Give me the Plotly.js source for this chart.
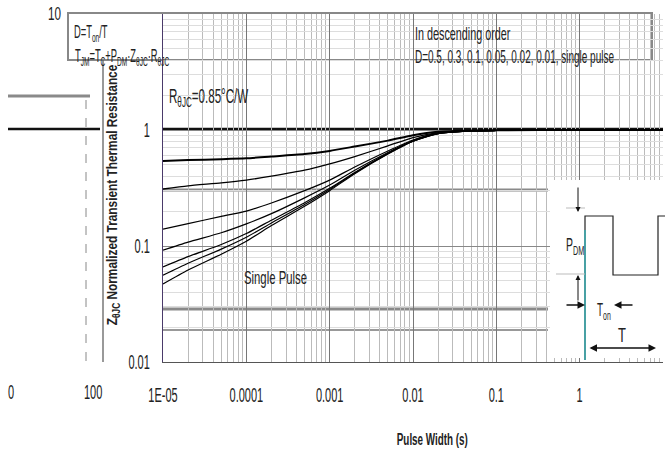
<!DOCTYPE html>
<html>
<head>
<meta charset="utf-8">
<script src="https://cdn.plot.ly/plotly-3.0.1.min.js"></script>
<style>html,body{margin:0;padding:0;background:#fff;}#chart{width:665px;height:454px;}</style>
</head>
<body>
<div id="chart"></div>
<script>
// Pulse width (s)
const pulseWidth = [1e-5, 2e-5, 5e-5, 1e-4, 2e-4, 5e-4, 1e-3, 2e-3, 5e-3, 1e-2, 2e-2, 5e-2, 0.1, 1, 10];
// Normalized transient thermal impedance, by duty cycle
const seriesNames = ["D=0.5", "D=0.3", "D=0.1", "D=0.05", "D=0.02", "D=0.01", "Single Pulse"];
const zD050 = [0.54, 0.55, 0.56, 0.57, 0.59, 0.62, 0.66, 0.72, 0.81, 0.90, 0.965, 0.99, 0.995, 1, 1];
const zD030 = [0.31, 0.33, 0.35, 0.37, 0.40, 0.45, 0.51, 0.59, 0.73, 0.86, 0.95, 0.985, 0.993, 1, 1];
const zD010 = [0.14, 0.156, 0.18, 0.20, 0.235, 0.30, 0.37, 0.48, 0.66, 0.82, 0.94, 0.98, 0.99, 1, 1];
const zD005 = [0.092, 0.108, 0.13, 0.155, 0.19, 0.26, 0.335, 0.45, 0.64, 0.81, 0.935, 0.98, 0.99, 1, 1];
const zD002 = [0.066, 0.081, 0.103, 0.128, 0.167, 0.236, 0.314, 0.43, 0.63, 0.80, 0.93, 0.98, 0.99, 1, 1];
const zD001 = [0.056, 0.071, 0.094, 0.119, 0.158, 0.228, 0.307, 0.426, 0.624, 0.80, 0.93, 0.98, 0.99, 1, 1];
const zSingle = [0.047, 0.062, 0.085, 0.11, 0.15, 0.22, 0.30, 0.42, 0.62, 0.80, 0.93, 0.98, 0.99, 1, 1];
const xTickVals = [1e-5, 1e-4, 1e-3, 1e-2, 0.1, 1, 10];
const xTickText = ["1E-05", "0.0001", "0.001", "0.01", "0.1", "1", "10"];
const yTickVals = [0.01, 0.1, 1, 10];
const yTickText = ["0.01", "0.1", "1", ""];

const allSeries = [zD050, zD030, zD010, zD005, zD002, zD001, zSingle];
const widths = [2, 1.3, 1.2, 1.2, 1.2, 1.2, 1.2];
const traces = allSeries.map((ys, i) => ({
  x: pulseWidth, y: ys, name: seriesNames[i], type: 'scatter', mode: 'lines',
  line: {color: '#000', width: widths[i], shape: 'spline', smoothing: 0.6}, showlegend: false
}));

const W = 665, H = 454, L = 163, R = 2, T = 14, B = 92;
const pw = W - L - R, ph = H - T - B;
const px = v => (v - L) / pw;
const py = v => (H - B - v) / ph;
const fnt = {family: 'Liberation Sans, Arial', size: 14, color: '#222'};
const fs = s => Object.assign({}, fnt, {size: s});

// horizontal squeeze per annotation (reference text is strongly condensed)
const annScale = [];
function ann(text, x, y, size, sq, opts) {
  annScale.push(sq);
  return Object.assign({text: text, xref: 'paper', yref: 'paper', x: px(x), y: py(y),
    showarrow: false, xanchor: 'left', yanchor: 'middle', align: 'left', font: fs(size)}, opts || {});
}
function arrow(x, y, ax, ay, w, extra) {
  annScale.push(1);
  return Object.assign({xref: 'paper', yref: 'paper', x: px(x), y: py(y), ax: px(ax), ay: py(ay),
    axref: 'paper', ayref: 'paper', showarrow: true, arrowhead: 2, arrowsize: 1, arrowwidth: w,
    arrowcolor: '#111', text: ''}, extra || {});
}

const annotations = [
  ann('10', 46, 14, 18, 0.65),
  ann('0', 6, 392, 20, 0.55),
  ann('100', 82, 392, 20, 0.55),
  ann('D=T<sub>on</sub>/T', 72, 33, 18, 0.52),
  ann('T<sub>JM</sub>=T<sub>C</sub>+P<sub>DM</sub>·Z<sub>θJC</sub>·R<sub>θJC</sub>', 73, 57, 18, 0.52),
  ann('R<sub>θJC</sub>=0.85°C/W', 167, 97, 20, 0.58),
  ann('In descending order', 413, 34, 18, 0.6),
  ann('D=0.5, 0.3, 0.1, 0.05, 0.02, 0.01, single pulse', 413, 57, 18, 0.555),
  ann('Single Pulse', 242, 278, 18, 0.63),
  ann('P<sub>DM</sub>', 564, 246, 18, 0.58),
  ann('T<sub>on</sub>', 595, 311, 18, 0.55),
  ann('T', 616, 335, 20, 0.65),
  ann('<b>Pulse Width (s)</b>', 432, 440, 17, 0.58, {xanchor: 'center', align: 'center'}),
  ann('<b>Z<sub>θJC</sub> Normalized Transient Thermal Resistance</b>', 112, 195, 15, 0.79,
      {textangle: -90, xanchor: 'center', yanchor: 'middle', align: 'center'}),
  arrow(578, 212, 578, 186, 1),
  arrow(578, 275, 578, 302, 1),
  arrow(585, 305, 565, 305, 1.5),
  arrow(614, 305, 634, 305, 1.5),
  arrow(656, 348, 588, 348, 1.5, {startarrowhead: 2, arrowside: 'end+start'})
];

const shapes = [
  {type: 'rect', xref: 'paper', yref: 'paper', x0: px(68), x1: px(652), y0: py(60), y1: py(13), line: {color: '#888', width: 2}, layer: 'below'},
  {type: 'line', xref: 'paper', yref: 'paper', x0: 0, x1: px(548), y0: py(190), y1: py(190), line: {color: '#8a8a8a', width: 3}, layer: 'below'},
  {type: 'line', xref: 'paper', yref: 'paper', x0: 0, x1: px(548), y0: py(309), y1: py(309), line: {color: '#8a8a8a', width: 3}, layer: 'below'},
  {type: 'line', xref: 'paper', yref: 'paper', x0: 0, x1: px(548), y0: py(330), y1: py(330), line: {color: '#999', width: 2}, layer: 'below'},
  {type: 'line', xref: 'paper', yref: 'paper', x0: px(8), x1: px(90), y0: py(96), y1: py(96), line: {color: '#8a8a8a', width: 3}, layer: 'below'},
  {type: 'rect', xref: 'paper', yref: 'paper', x0: px(550), x1: px(665), y0: py(358), y1: py(180), fillcolor: '#fff', line: {width: 0}, layer: 'above'},
  {type: 'path', xref: 'paper', yref: 'paper',
   path: `M ${px(585)} ${py(360)} L ${px(585)} ${py(216)} L ${px(613)} ${py(216)} L ${px(613)} ${py(275)} L ${px(658)} ${py(275)} L ${px(658)} ${py(216)} L ${px(665)} ${py(216)}`,
   line: {color: '#222', width: 1.2}, layer: 'above'},
  {type: 'line', xref: 'paper', yref: 'paper', x0: px(585), x1: px(585), y0: py(360), y1: py(230), line: {color: '#19c8d0', width: 1}, layer: 'above'},
  {type: 'line', xref: 'paper', yref: 'paper', x0: px(566), x1: px(585), y0: py(208), y1: py(208), line: {color: '#bbb', width: 1}, layer: 'above'},
  {type: 'line', xref: 'paper', yref: 'paper', x0: px(556), x1: px(585), y0: py(274), y1: py(274), line: {color: '#bbb', width: 1}, layer: 'above'},
  {type: 'line', xref: 'paper', yref: 'paper', x0: 0, x1: 1, y0: py(129), y1: py(129), line: {color: '#111', width: 2.5}, layer: 'below'},
  {type: 'line', xref: 'paper', yref: 'paper', x0: px(8), x1: px(100), y0: py(129), y1: py(129), line: {color: '#111', width: 2.5}, layer: 'below'},
  {type: 'line', xref: 'paper', yref: 'paper', x0: px(103), x1: px(103), y0: py(60), y1: py(362), line: {color: '#555', width: 1.2}},
  {type: 'line', xref: 'paper', yref: 'paper', x0: px(86), x1: px(86), y0: py(100), y1: py(362), line: {color: '#888', width: 1, dash: 'dash'}}
];

const layout = {
  width: W, height: H,
  margin: {l: L, r: R, t: T, b: B},
  paper_bgcolor: '#fff', plot_bgcolor: '#fff',
  font: fnt,
  xaxis: {type: 'log', range: [-5, 1], tickvals: xTickVals, ticktext: xTickText,
    showgrid: true, gridcolor: '#777', gridwidth: 1, zeroline: false,
    minor: {showgrid: true, gridcolor: '#bbb', gridwidth: 1, dtick: 'D1'},
    showline: true, linecolor: '#555', linewidth: 1, ticks: '', ticklabelstandoff: 15,
    tickfont: fs(20)},
  yaxis: {type: 'log', range: [-2, 1], tickvals: yTickVals, ticktext: yTickText,
    showgrid: true, gridcolor: '#888', gridwidth: 1, zeroline: false,
    minor: {showgrid: true, gridcolor: '#ddd', gridwidth: 1, dtick: 'D1'},
    showline: true, linecolor: '#4a3a6a', linewidth: 1.2, ticks: '', ticklabelstandoff: 8,
    tickfont: fs(20)},
  annotations: annotations,
  shapes: shapes,
  showlegend: false
};

function squeeze(t, sx, sy) {
  const anchor = t.getAttribute('text-anchor') || 'start';
  const g = document.createElementNS('http://www.w3.org/2000/svg', 'g');
  t.parentNode.insertBefore(g, t);
  g.appendChild(t);
  g.style.transformBox = 'fill-box';
  g.style.transformOrigin = anchor === 'start' ? 'left center' : (anchor === 'end' ? 'right center' : 'center');
  g.style.transform = `scale(${sx}, ${sy})`;
}

Plotly.newPlot('chart', traces, layout, {displayModeBar: false, staticPlot: true}).then(gd => {
  gd.querySelectorAll('.xtick text, .ytick text').forEach(t => squeeze(t, 0.55, 1));
  gd.querySelectorAll('g.annotation').forEach(a => {
    const i = +a.getAttribute('data-index');
    const t = a.querySelector('text');
    if (t && t.textContent.trim() && annScale[i] !== 1) squeeze(t, annScale[i], 1);
  });
});
</script>
</body>
</html>
